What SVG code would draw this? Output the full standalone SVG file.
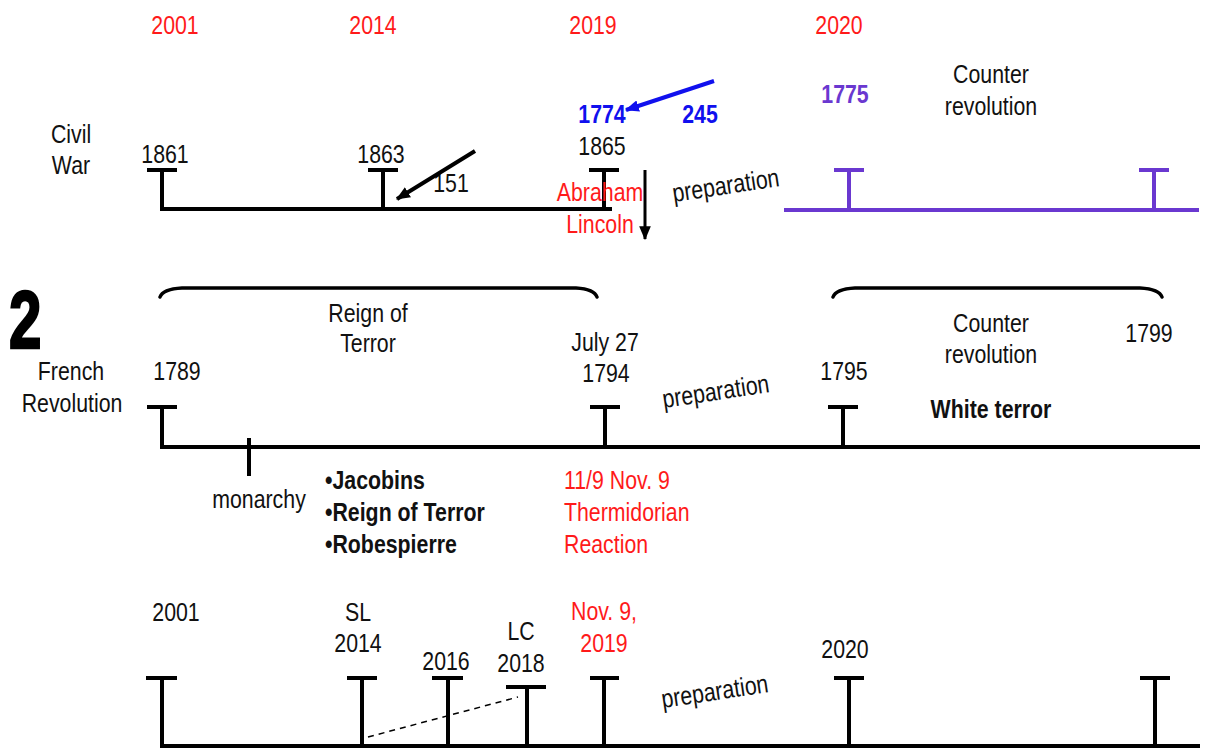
<svg xmlns="http://www.w3.org/2000/svg" width="1205" height="751" viewBox="0 0 1205 751">
<style>
text{font-family:"Liberation Sans",Arial,sans-serif;font-size:26px;fill:#111}
.c{text-anchor:middle}
.red{fill:#ff1a1a}
.blue{fill:#1010ee;font-weight:bold}
.pur{fill:#6a38d0;font-weight:bold}
.b{font-weight:bold}
.prep{font-size:26px;text-anchor:middle}
.ln{stroke:#000;stroke-width:4;fill:none}
.pl{stroke:#6a38d0;stroke-width:4;fill:none}
.br{stroke:#000;stroke-width:3.5;fill:none;stroke-linecap:round}
</style>
<defs>
<marker id="ah" viewBox="0 0 12 10" refX="11" refY="5" markerWidth="14" markerHeight="12" markerUnits="userSpaceOnUse" orient="auto"><path d="M0,0 L12,5 L0,10 Z" fill="#000"/></marker>
<marker id="ahb" viewBox="0 0 12 10" refX="11" refY="5" markerWidth="14" markerHeight="12" markerUnits="userSpaceOnUse" orient="auto"><path d="M0,0 L12,5 L0,10 Z" fill="#1010ee"/></marker>
</defs>
<rect width="1205" height="751" fill="#fff"/>

<g id="years-top">
<text class="c red" transform="translate(175,34) scale(.82,1)">2001</text>
<text class="c red" transform="translate(373,34) scale(.82,1)">2014</text>
<text class="c red" transform="translate(593,34) scale(.82,1)">2019</text>
<text class="c red" transform="translate(839,34) scale(.82,1)">2020</text>
</g>

<g id="civil-war">
<text class="c" transform="translate(71,143) scale(.82,1)">Civil</text>
<text class="c" transform="translate(71,174) scale(.82,1)">War</text>
</g>

<g id="timeline-1">
<path class="ln" d="M162,170 V209 H612 M147,170 H177 M383,170 V209 M368,170 H398 M604,170 V209 M589,170 H619"/>
<text class="c" transform="translate(165,163) scale(.82,1)">1861</text>
<text class="c" transform="translate(381,163) scale(.82,1)">1863</text>
<text class="c" transform="translate(602,155) scale(.82,1)">1865</text>
<text class="c" transform="translate(451,192) scale(.82,1)">151</text>
<text class="c blue" transform="translate(602,123) scale(.82,1)">1774</text>
<text class="c blue" transform="translate(700,123) scale(.82,1)">245</text>
<text class="c red" transform="translate(600,201) scale(.82,1)">Abraham</text>
<text class="c red" transform="translate(600,233) scale(.82,1)">Lincoln</text>
<text class="prep" transform="translate(727,194) rotate(-8.5) scale(.82,1)">preparation</text>
</g>

<g id="timeline-purple">
<path class="pl" d="M784,210 H1199 M849,170 V210 M834,170 H864 M1154,170 V210 M1139,170 H1169"/>
<text class="c pur" transform="translate(845,103) scale(.82,1)">1775</text>
<text class="c" transform="translate(991,83) scale(.82,1)">Counter</text>
<text class="c" transform="translate(991,115) scale(.82,1)">revolution</text>
</g>

<g id="section-2">
<text transform="translate(9,348) scale(0.72,1)" style="font-size:81px;font-weight:bold;fill:#000;stroke:#000;stroke-width:2.5">2</text>
<text class="c" transform="translate(71,380) scale(.82,1)">French</text>
<text class="c" transform="translate(72,412) scale(.82,1)">Revolution</text>
</g>

<g id="brace-reign">
<path class="br" d="M160,297 Q163,289 182,288 L576,288 Q594,289 597,297"/>
<text class="c" transform="translate(368,322) scale(.82,1)">Reign of</text>
<text class="c" transform="translate(368,352) scale(.82,1)">Terror</text>
</g>

<g id="brace-counter">
<path class="br" d="M833,297 Q836,289 855,288 L1140,288 Q1159,289 1162,297"/>
<text class="c" transform="translate(991,332) scale(.82,1)">Counter</text>
<text class="c" transform="translate(991,363) scale(.82,1)">revolution</text>
<text class="c" transform="translate(1149,342) scale(.82,1)">1799</text>
</g>

<g id="timeline-2">
<path class="ln" d="M162,407 V447 H1200 M147,407 H177 M249,438 V476 M605,407 V447 M590,407 H620 M843,407 V447 M828,407 H858"/>
<text class="c" transform="translate(177,380) scale(.82,1)">1789</text>
<text class="c" transform="translate(605,351) scale(.82,1)">July 27</text>
<text class="c" transform="translate(606,382) scale(.82,1)">1794</text>
<text class="c" transform="translate(844,380) scale(.82,1)">1795</text>
<text class="c b" transform="translate(991,418) scale(.82,1)">White terror</text>
<text class="prep" transform="translate(717,400) rotate(-8.5) scale(.82,1)">preparation</text>
<text class="c" transform="translate(259,508) scale(.82,1)">monarchy</text>
<text class="b" transform="translate(325,489) scale(.82,1)">•Jacobins</text>
<text class="b" transform="translate(325,521) scale(.82,1)">•Reign of Terror</text>
<text class="b" transform="translate(325,553) scale(.82,1)">•Robespierre</text>
<text class="red" transform="translate(564,489) scale(.82,1)">11/9 Nov. 9</text>
<text class="red" transform="translate(564,521) scale(.82,1)">Thermidorian</text>
<text class="red" transform="translate(564,553) scale(.82,1)">Reaction</text>
</g>

<g id="timeline-3">
<path class="ln" d="M162,678 V746 H1200 M146,678 H177 M362,678 V746 M347,678 H377 M448,678 V746 M432,678 H463 M527,687 V746 M506,687 H546 M604,678 V746 M590,678 H619 M849,678 V746 M834,678 H864 M1155,678 V746 M1140,678 H1170"/>
<text class="c" transform="translate(176,621) scale(.82,1)">2001</text>
<text class="c" transform="translate(358,621) scale(.82,1)">SL</text>
<text class="c" transform="translate(358,652) scale(.82,1)">2014</text>
<text class="c" transform="translate(446,670) scale(.82,1)">2016</text>
<text class="c" transform="translate(521,640) scale(.82,1)">LC</text>
<text class="c" transform="translate(521,672) scale(.82,1)">2018</text>
<text class="c red" transform="translate(604,620) scale(.82,1)">Nov. 9,</text>
<text class="c red" transform="translate(604,652) scale(.82,1)">2019</text>
<text class="c" transform="translate(845,658) scale(.82,1)">2020</text>
<text class="prep" transform="translate(716,700) rotate(-8.5) scale(.82,1)">preparation</text>
</g>

<g id="connectors">
<line x1="475" y1="151" x2="397" y2="199" stroke="#000" stroke-width="4" marker-end="url(#ah)"/>
<line x1="714" y1="81" x2="626" y2="110" stroke="#1010ee" stroke-width="4" marker-end="url(#ahb)"/>
<line x1="645" y1="170" x2="645" y2="239" stroke="#000" stroke-width="3" marker-end="url(#ah)"/>
<line x1="368" y1="737" x2="518" y2="697" stroke="#000" stroke-width="1.5" stroke-dasharray="6,5"/>
</g>
</svg>
